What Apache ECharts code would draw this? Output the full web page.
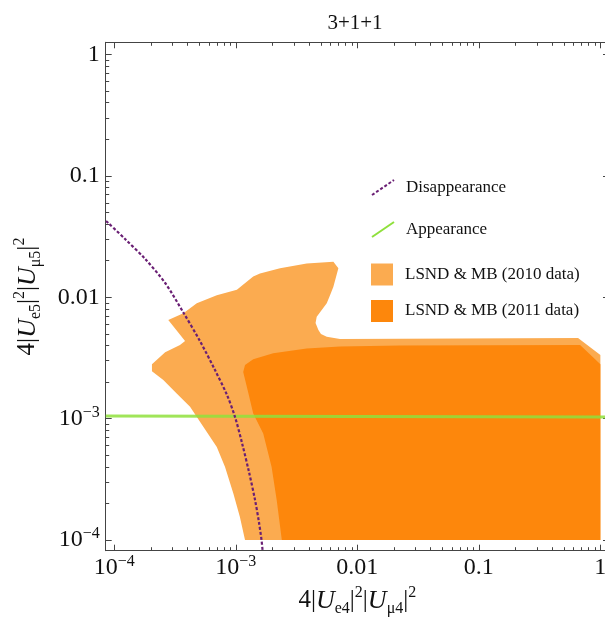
<!DOCTYPE html>
<html>
<head>
<meta charset="utf-8">
<title>3+1+1</title>
<script src="https://cdn.jsdelivr.net/npm/echarts@6/dist/echarts.min.js"></script>
<style>
  html, body { margin: 0; padding: 0; background: #ffffff; }
  #chart { width: 605px; height: 623px; }
</style>
</head>
<body>
<div id="chart"></div>
<script>
// Allowed regions and bounds in the (4|Ue4|^2|Uμ4|^2, 4|Ue5|^2|Uμ5|^2) plane
const lsnd2010 = [
  [1.19e-3, 1e-4], [1.08e-3, 1.55e-4], [9.54e-4, 2.42e-4], [8.15e-4, 4.0e-4],
  [6.97e-4, 5.85e-4], [5.40e-4, 8.56e-4], [4.20e-4, 1.25e-3], [3.26e-4, 1.61e-3],
  [2.53e-4, 2.08e-3], [2.04e-4, 2.46e-3], [2.04e-4, 2.81e-3], [2.62e-4, 3.53e-3],
  [3.47e-4, 4.04e-3], [3.82e-4, 4.35e-3], [2.78e-4, 6.49e-3], [3.70e-4, 7.37e-3],
  [4.77e-4, 8.91e-3], [6.97e-4, 1.04e-2], [1.02e-3, 1.15e-2], [1.39e-3, 1.48e-2],
  [1.58e-3, 1.57e-2], [2.31e-3, 1.73e-2], [3.83e-3, 1.90e-2], [6.35e-3, 1.96e-2],
  [6.98e-3, 1.73e-2], [6.35e-3, 1.22e-2], [5.96e-3, 1.04e-2], [5.60e-3, 8.91e-3],
  [4.63e-3, 6.91e-3], [4.53e-3, 6.13e-3], [4.78e-3, 5.37e-3], [5.02e-3, 4.97e-3],
  [5.60e-3, 4.72e-3], [7.20e-3, 4.52e-3], [0.655, 4.61e-3], [1.0, 3.34e-3],
  [1.0, 1e-4]
];
const lsnd2011 = [
  [2.39e-3, 1e-4], [2.17e-3, 2.13e-4], [1.97e-3, 4.0e-4], [1.68e-3, 7.55e-4],
  [1.39e-3, 1.10e-3], [1.27e-3, 1.61e-3], [1.15e-3, 2.42e-3], [1.19e-3, 2.76e-3],
  [1.39e-3, 3.09e-3], [2.03e-3, 3.45e-3], [3.83e-3, 3.79e-3], [7.20e-3, 3.92e-3],
  [2.25e-2, 4.00e-3], [0.681, 4.04e-3], [1.0, 2.81e-3], [1.0, 1e-4]
];
const disappearance = [
  [8.55e-5, 4.25e-2], [1.225e-4, 3.02e-2], [1.79e-4, 2.07e-2], [2.62e-4, 1.31e-2],
  [3.68e-4, 7.55e-3], [5.07e-4, 4.35e-3], [6.74e-4, 2.51e-3], [8.47e-4, 1.56e-3],
  [9.85e-4, 1.03e-3], [1.125e-3, 6.28e-4], [1.284e-3, 3.62e-4], [1.44e-3, 2.13e-4],
  [1.55e-3, 1.40e-4], [1.627e-3, 1e-4], [1.66e-3, 8.2e-5]
];
const appearance = [[8.5e-5, 1.05e-3], [1.17, 1.03e-3]];

// Decade tick labels ('^' marks the exponent)
const tickValues = [1e-4, 1e-3, 0.01, 0.1, 1];
const tickLabels = ['10^−4', '10^−3', '0.01', '0.1', '1'];
const minorTickValues = [];
for (let k = -4; k <= -1; k++) {
  for (let m = 2; m <= 9; m++) minorTickValues.push(m * Math.pow(10, k));
}

const FONT = '"Liberation Serif", "Times New Roman", serif';
const INK = '#111111';
const FRAME = '#444444';
const C2010 = '#fbab50';
const C2011 = '#fd870c';
const CDIS = '#6a1f74';
const CAPP = '#8fe03c';

const xMin = Math.pow(10, -4.071), xMax = Math.pow(10, 0.071);
const yMin = Math.pow(10, -4.088), yMax = Math.pow(10, 0.100);

function tickIndex(v) {
  for (let i = 0; i < tickValues.length; i++) {
    if (Math.abs(Math.log10(v) - Math.log10(tickValues[i])) < 1e-6) return i;
  }
  return -1;
}
function richTick(label) {
  const parts = label.split('^');
  return parts.length === 2 ? '{b|' + parts[0] + '}{s|' + parts[1] + '}' : '{b|' + label + '}';
}
const tickRich = {
  b: { fontFamily: FONT, fontSize: 24, color: INK, lineHeight: 28 },
  s: { fontFamily: FONT, fontSize: 16, color: INK, lineHeight: 16, verticalAlign: 'top' }
};
const nameRich = {
  n: { fontFamily: FONT, fontSize: 25, color: INK, lineHeight: 32 },
  u: { fontFamily: FONT, fontSize: 26, fontStyle: 'italic', color: INK, lineHeight: 32 },
  sb: { fontFamily: FONT, fontSize: 16, color: INK, lineHeight: 16, verticalAlign: 'bottom' },
  sp: { fontFamily: FONT, fontSize: 16, color: INK, lineHeight: 16, verticalAlign: 'top' }
};

function axis(kind, position, major, extra) {
  const isX = kind === 'x';
  const base = {
    type: 'log',
    logBase: 10,
    position: position,
    min: isX ? xMin : yMin,
    max: isX ? xMax : yMax,
    splitLine: { show: false },
    axisLine: { show: major, lineStyle: { color: FRAME, width: 1 } },
    axisTick: {
      show: true, inside: true, length: major ? 6 : 3.5,
      customValues: major ? tickValues : minorTickValues,
      lineStyle: { color: FRAME, width: 1 }
    },
    axisLabel: { show: false },
    axisPointer: { show: false }
  };
  return Object.assign(base, extra || {});
}

const labelOpts = (margin) => ({
  show: true,
  margin: margin,
  customValues: tickValues,
  formatter: (v) => { const i = tickIndex(v); return i < 0 ? '' : richTick(tickLabels[i]); },
  rich: tickRich
});

function polygonSeries(name, pts, color) {
  return {
    type: 'custom',
    name: name,
    coordinateSystem: 'cartesian2d',
    xAxisIndex: 0,
    yAxisIndex: 0,
    itemStyle: { color: color },
    encode: { x: 0, y: 1 },
    data: pts,
    renderItem: (params, api) => {
      if (params.dataIndex !== 0) return null;
      return {
        type: 'polygon',
        shape: { points: pts.map(p => api.coord(p)) },
        style: { fill: color, stroke: null }
      };
    }
  };
}

const legendCommon = {
  orient: 'vertical',
  left: 371,
  itemWidth: 22,
  itemHeight: 22,
  selectedMode: false,
  padding: 0,
  textStyle: { fontFamily: FONT, fontSize: 17, color: INK, padding: [0, 0, 0, 7] }
};

const chart = echarts.init(document.getElementById('chart'), null, { renderer: 'canvas' });
chart.setOption({
  animation: false,
  backgroundColor: '#ffffff',
  title: {
    text: '3+1+1',
    left: 355,
    top: 13,
    padding: 0,
    textAlign: 'center',
    textStyle: { fontFamily: FONT, fontSize: 21, fontWeight: 'normal', color: INK }
  },
  grid: { left: 105.7, top: 42.3, width: 503.3, height: 508.4, containLabel: false, outerBoundsMode: 'none' },
  xAxis: [
    axis('x', 'bottom', true, {
      axisLabel: labelOpts(3),
      name: '{n|4|}{u|U}{sb|e4}{n||}{sp|2}{n||}{u|U}{sb|μ4}{n||}{sp|2}',
      nameLocation: 'middle',
      nameGap: 34,
      nameTextStyle: { rich: nameRich }
    }),
    axis('x', 'bottom', false),
    axis('x', 'top', true),
    axis('x', 'top', false)
  ],
  yAxis: [
    axis('y', 'left', true, {
      axisLabel: labelOpts(6),
      name: '{n|4|}{u|U}{sb|e5}{n||}{sp|2}{n||}{u|U}{sb|μ5}{n||}{sp|2}',
      nameLocation: 'middle',
      nameRotate: 90,
      nameGap: 62,
      nameTextStyle: { rich: nameRich }
    }),
    axis('y', 'left', false),
    axis('y', 'right', true),
    axis('y', 'right', false)
  ],
  legend: [
    Object.assign({}, legendCommon, { top: 179, data: [{
      name: 'Disappearance', icon: 'path://M0,15L22,0',
      itemStyle: { color: 'rgba(0,0,0,0)', borderColor: CDIS, borderWidth: 2, borderType: [3, 2] }
    }] }),
    Object.assign({}, legendCommon, { top: 221, data: [{
      name: 'Appearance', icon: 'path://M0,15L22,0',
      itemStyle: { color: 'rgba(0,0,0,0)', borderColor: CAPP, borderWidth: 2 }
    }] }),
    Object.assign({}, legendCommon, { top: 263.5, data: [{
      name: 'LSND & MB (2010 data)', icon: 'rect', itemStyle: { color: C2010, borderWidth: 0 }
    }] }),
    Object.assign({}, legendCommon, { top: 300, data: [{
      name: 'LSND & MB (2011 data)', icon: 'rect', itemStyle: { color: C2011, borderWidth: 0 }
    }] })
  ],
  series: [
    polygonSeries('LSND & MB (2010 data)', lsnd2010, C2010),
    polygonSeries('LSND & MB (2011 data)', lsnd2011, C2011),
    {
      type: 'line',
      name: 'Appearance',
      data: appearance,
      symbol: 'none',
      lineStyle: { color: CAPP, width: 3, opacity: 0.85 },
      itemStyle: { color: CAPP }
    },
    {
      type: 'line',
      name: 'Disappearance',
      data: disappearance,
      symbol: 'none',
      smooth: 0.3,
      lineStyle: { color: CDIS, width: 2.2, type: [3, 2] },
      itemStyle: { color: CDIS }
    }
  ]
});
</script>
</body>
</html>
